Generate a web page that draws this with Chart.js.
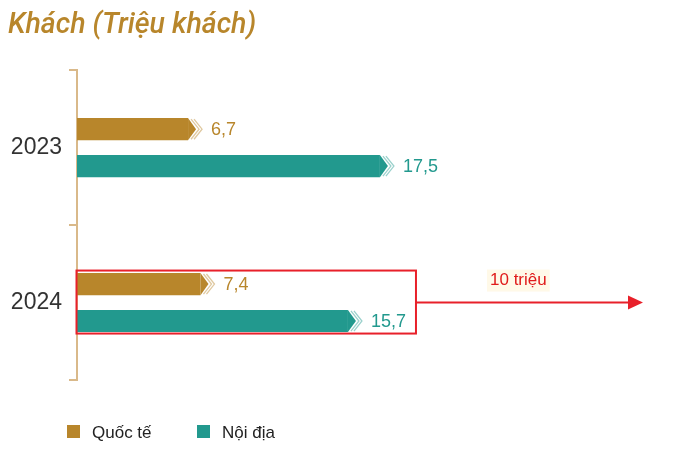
<!DOCTYPE html>
<html>
<head>
<meta charset="utf-8">
<script src="https://cdn.jsdelivr.net/npm/chart.js@4.4.1/dist/chart.umd.min.js"></script>
<style>
html,body{margin:0;padding:0;background:#fff;}
#wrap{width:675px;height:462px;position:relative;}
</style>
</head>
<body>
<div id="wrap"><canvas id="c" width="675" height="462"></canvas></div>
<script>
const titleText = 'Khách (Triệu khách)';
const years = ['2023', '2024'];
const seriesNames = ['Quốc tế', 'Nội địa'];
const quocTe = [6.7, 7.4];
const noiDia = [17.5, 15.7];
const seriesColors = ['#B8862B', '#22998E'];
const annotationText = '10 triệu';
const annotationCategory = '2024';

const fmt = v => String(v).replace('.', ',');
const LABEL_FONT = '18px "Liberation Sans", Arial, sans-serif';

const barDeco = {
  id: 'barDeco',
  afterDatasetsDraw(chart) {
    const ctx = chart.ctx;
    chart.data.datasets.forEach((ds, di) => {
      const meta = chart.getDatasetMeta(di);
      meta.data.forEach((bar, i) => {
        const x = bar.x, y = bar.y, h = bar.height;
        const top = y - h / 2, bot = y + h / 2;
        const tip = 8;
        ctx.save();
        ctx.fillStyle = '#fff';
        ctx.fillRect(x - tip, top - 1, tip + 2, h + 2);
        ctx.fillStyle = ds.backgroundColor;
        ctx.beginPath();
        ctx.moveTo(x - tip, top);
        ctx.lineTo(x, y);
        ctx.lineTo(x - tip, bot);
        ctx.closePath();
        ctx.fill();
        ctx.strokeStyle = ds.backgroundColor;
        ctx.globalAlpha = 0.45;
        ctx.lineWidth = 1.3;
        [3, 6].forEach(o => {
          ctx.beginPath();
          ctx.moveTo(x - tip + o, top + 1);
          ctx.lineTo(x + o, y);
          ctx.lineTo(x - tip + o, bot - 1);
          ctx.stroke();
        });
        ctx.globalAlpha = 1;
        ctx.fillStyle = ds.backgroundColor;
        ctx.font = LABEL_FONT;
        ctx.textBaseline = 'middle';
        ctx.textAlign = 'left';
        ctx.fillText(fmt(ds.data[i]), x + 15, y + 1);
        ctx.restore();
      });
    });
  }
};

const annot = {
  id: 'annot',
  afterDraw(chart) {
    const ctx = chart.ctx;
    const ys = chart.scales.y;
    const idx = years.indexOf(annotationCategory);
    const cy = ys.getPixelForValue(idx);
    ctx.save();
    ctx.font = LABEL_FONT;
    let right = 0;
    chart.data.datasets.forEach((ds, di) => {
      const bar = chart.getDatasetMeta(di).data[idx];
      const w = ctx.measureText(fmt(ds.data[idx])).width;
      right = Math.max(right, bar.x + 15 + w);
    });
    right += 10;
    const left = chart.chartArea.left - 0.5;
    const top = cy - 32, bot = cy + 31;
    ctx.strokeStyle = '#E8202A';
    ctx.lineWidth = 2;
    ctx.strokeRect(left, top, right - left, bot - top);
    const ay = cy;
    const ax2 = chart.width - 32;
    ctx.beginPath();
    ctx.moveTo(right, ay);
    ctx.lineTo(ax2 - 12, ay);
    ctx.stroke();
    ctx.fillStyle = '#E8202A';
    ctx.beginPath();
    ctx.moveTo(ax2, ay);
    ctx.lineTo(ax2 - 15, ay - 7);
    ctx.lineTo(ax2 - 15, ay + 7);
    ctx.closePath();
    ctx.fill();
    ctx.font = '17px "Liberation Sans", Arial, sans-serif';
    ctx.textAlign = 'left';
    ctx.textBaseline = 'middle';
    const tx = 490, ty = cy - 22;
    const tw = ctx.measureText(annotationText).width;
    ctx.fillStyle = 'rgba(255,243,210,0.5)';
    ctx.fillRect(tx - 3, ty - 11, tw + 6, 22);
    ctx.fillStyle = '#E01B1B';
    ctx.fillText(annotationText, tx, ty);
    ctx.restore();
  }
};

const legendPlugin = {
  id: 'customLegend',
  afterDraw(chart) {
    const ctx = chart.ctx;
    ctx.save();
    const xs = [67, 197];
    const y = 432;
    chart.data.datasets.forEach((ds, i) => {
      ctx.fillStyle = ds.backgroundColor;
      ctx.fillRect(xs[i], y - 7, 13, 13);
      ctx.fillStyle = '#222';
      ctx.font = '17px "Liberation Sans", Arial, sans-serif';
      ctx.textBaseline = 'middle';
      ctx.textAlign = 'left';
      ctx.fillText(ds.label, xs[i] + 25, y + 1);
    });
    ctx.restore();
  }
};

new Chart(document.getElementById('c'), {
  type: 'bar',
  data: {
    labels: years,
    datasets: [
      { label: seriesNames[0], data: quocTe, backgroundColor: seriesColors[0], borderWidth: 0,
        categoryPercentage: 0.477, barPercentage: 0.6 },
      { label: seriesNames[1], data: noiDia, backgroundColor: seriesColors[1], borderWidth: 0,
        categoryPercentage: 0.477, barPercentage: 0.6 }
    ]
  },
  options: {
    indexAxis: 'y',
    responsive: false,
    animation: false,
    devicePixelRatio: 1,
    layout: { padding: { left: 8, right: 65, top: 0, bottom: 82 } },
    plugins: {
      legend: { display: false },
      tooltip: { enabled: false },
      title: {
        display: true,
        text: titleText,
        align: 'start',
        color: '#B8862B',
        font: { family: 'Roboto', style: 'italic', weight: '500', size: 28.5 },
        padding: { top: 9, bottom: 27 }
      }
    },
    scales: {
      x: { display: false, min: 0, max: 30 },
      y: {
        offset: true,
        grid: { display: true, drawOnChartArea: false, offset: true, tickLength: 8, color: '#D9B98A', lineWidth: 2 },
        border: { display: true, color: '#D9B98A', width: 2 },
        ticks: { color: '#333', font: { family: '"Liberation Sans", Arial, sans-serif', size: 23 }, padding: 7 },
        afterFit(s) { s.width = 69; }
      }
    }
  },
  plugins: [barDeco, annot, legendPlugin]
});
</script>
</body>
</html>
